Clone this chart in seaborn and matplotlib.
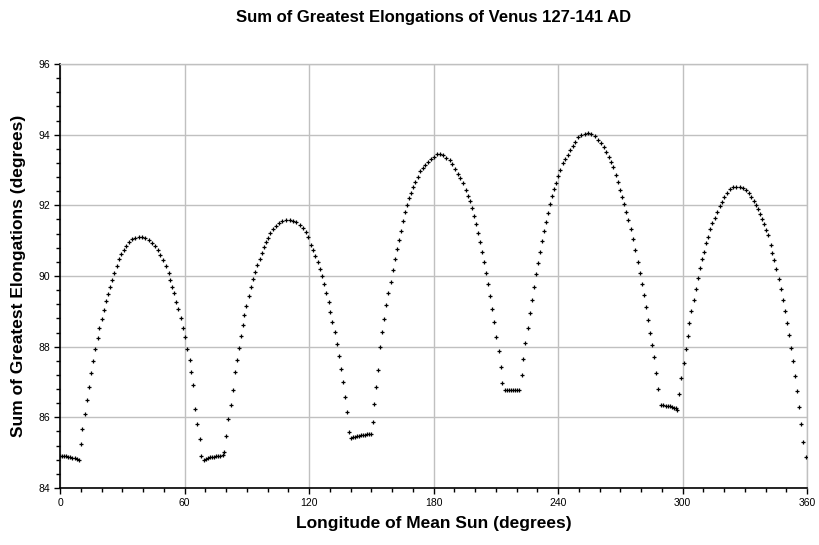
import numpy as np
import pandas as pd
import matplotlib
matplotlib.use("Agg")
import matplotlib.pyplot as plt
import seaborn as sns
from matplotlib.ticker import MultipleLocator

# valores, por ciclo (longitud del sol medio, suma de elongaciones)
lon_1 = [0, 1, 2, 3, 4, 5, 6, 7, 8, 9,
         10.0, 10.8, 11.9, 13.2, 14.0, 15.1, 16.0, 17.0, 18.2, 18.9, 20.1, 21.0, 22.3, 23.1, 23.9,
         25.0, 26.2, 27.3, 28.6, 29.5, 30.7, 32.0, 33.4, 34.7, 36.3, 37.9, 39.5, 41.1, 42.7, 44.3,
         45.9, 47.2, 48.3, 49.6, 50.9, 52.4, 53.2, 54.1, 55.1, 56.0, 57.0, 58.2, 59.1, 60.2, 61.2,
         62.5, 63.1, 64.1, 65.2, 66.2, 67.3, 68.1, 69.2]
elong_1 = [84.90, 84.90, 84.91, 84.90, 84.89, 84.88, 84.86, 84.84, 84.81, 84.78,
           85.24, 85.68, 86.10, 86.49, 86.87, 87.25, 87.59, 87.93, 88.24, 88.53, 88.78, 89.04, 89.29, 89.49, 89.70,
           89.89, 90.09, 90.29, 90.47, 90.61, 90.74, 90.86, 90.96, 91.04, 91.08, 91.09, 91.10, 91.07, 91.02, 90.94,
           90.85, 90.74, 90.60, 90.45, 90.29, 90.09, 89.89, 89.70, 89.51, 89.27, 89.07, 88.81, 88.54, 88.27, 87.93,
           87.61, 87.27, 86.92, 86.24, 85.80, 85.39, 84.91, 84.79]

lon_2 = [70.3, 71.3, 72.3, 73.3, 74.3, 75.3, 76.3, 77.3, 78.3, 79.2,
         80.2, 81.1, 82.4, 83.2, 84.2, 85.3, 86.1, 87.1, 88.0, 88.8, 89.8, 91.1, 92.0, 93.2, 94.1,
         95.1, 96.2, 97.2, 98.2, 99.1, 100.1, 101.4, 102.7, 103.9, 105.5, 107.1, 109.1, 110.7, 112.3,
         113.9, 115.5, 117.1, 118.4, 119.7, 120.8, 121.9, 123.0, 124.3, 125.3, 126.3, 127.2, 128.3,
         129.5, 130.1, 131.2, 132.4, 133.3, 134.3, 135.3, 136.2, 137.2, 138.2, 139.1, 140.1]
elong_2 = [84.83, 84.86, 84.87, 84.88, 84.89, 84.90, 84.90, 84.91, 84.92, 85.02,
           85.48, 85.94, 86.35, 86.77, 87.27, 87.61, 87.97, 88.30, 88.61, 88.91, 89.16, 89.43, 89.68, 89.91, 90.11,
           90.30, 90.49, 90.66, 90.81, 90.95, 91.08, 91.21, 91.32, 91.42, 91.49, 91.55, 91.59, 91.59, 91.57,
           91.52, 91.44, 91.35, 91.24, 91.11, 90.88, 90.74, 90.57, 90.39, 90.20, 90.00, 89.77, 89.53,
           89.27, 88.99, 88.70, 88.41, 88.07, 87.74, 87.38, 86.99, 86.58, 86.15, 85.59, 85.41]

lon_3 = [141.0, 142.0, 143.0, 144.0, 145.0, 146.0, 147.0, 148.0, 149.0, 149.9,
         150.8, 151.5, 152.3, 153.1, 154.1, 155.2, 156.1, 157.3, 158.2, 159.4, 160.5, 161.3, 162.3,
         163.2, 164.3, 165.3, 166.1, 167.1, 168.2, 169.3, 170.3, 171.2, 172.5, 173.6, 174.9, 176.0,
         177.3, 178.9, 180.3, 181.6, 183.0, 184.6, 186.2, 187.8, 189.1, 190.4, 191.6, 192.9, 194.2,
         195.5, 196.5, 197.4, 198.4, 199.4, 200.3, 201.3, 202.3, 203.2, 204.2, 205.2, 206.1, 207.4,
         208.3, 209.3, 210.3, 211.4, 212.4, 213.1]
elong_3 = [85.43, 85.45, 85.47, 85.48, 85.49, 85.50, 85.51, 85.52, 85.53, 85.53,
           85.88, 86.38, 86.86, 87.34, 88.00, 88.42, 88.78, 89.18, 89.52, 89.83, 90.17, 90.47, 90.76,
           91.02, 91.26, 91.57, 91.80, 92.01, 92.20, 92.36, 92.53, 92.67, 92.81, 92.96, 93.07, 93.15,
           93.23, 93.30, 93.38, 93.44, 93.44, 93.41, 93.35, 93.27, 93.16, 93.04, 92.90, 92.76, 92.62,
           92.43, 92.26, 92.12, 91.91, 91.70, 91.47, 91.23, 90.97, 90.69, 90.39, 90.08, 89.77, 89.44,
           89.07, 88.69, 88.28, 87.88, 87.42, 86.96]

lon_4 = [214.3, 215.3, 216.3, 217.3, 218.3, 219.3, 220.3, 221.4,
         222.5, 223.1, 224.2, 225.4, 226.3, 227.5, 228.3, 229.4, 230.5, 231.3, 232.3, 233.3, 234.2,
         235.3, 236.1, 237.1, 238.1, 239.0, 240.0, 241.0, 242.4, 243.5, 244.8, 245.9, 247.2, 248.3,
         249.6, 251.2, 252.8, 254.4, 256.0, 257.6, 259.3, 260.9, 262.2, 263.3, 264.4, 265.7, 266.7,
         267.8, 268.9, 270.0, 271.0, 271.9, 272.9, 273.9, 275.0, 276.1, 277.2, 278.4, 279.3, 280.5,
         281.4, 282.4, 283.4, 284.3, 285.3, 286.3, 287.2, 288.2]
elong_4 = [86.77, 86.77, 86.78, 86.78, 86.78, 86.78, 86.77, 86.76,
           87.19, 87.66, 88.10, 88.52, 88.96, 89.32, 89.70, 90.05, 90.38, 90.69, 90.99, 91.28, 91.54,
           91.79, 92.03, 92.26, 92.46, 92.64, 92.83, 93.00, 93.19, 93.30, 93.43, 93.57, 93.68, 93.79,
           93.92, 93.99, 94.02, 94.04, 94.01, 93.95, 93.85, 93.76, 93.64, 93.52, 93.38, 93.24, 93.08,
           92.86, 92.67, 92.43, 92.23, 92.03, 91.82, 91.59, 91.32, 91.04, 90.74, 90.41, 90.09, 89.77,
           89.46, 89.11, 88.76, 88.38, 88.05, 87.72, 87.26, 86.79]

lon_5 = [289.8, 290.8, 291.8, 292.8, 293.8, 294.8, 295.8, 296.8, 297.5,
         298.2, 299.3, 300.5, 301.5, 302.5, 303.1, 304.2, 305.5, 306.3, 307.5, 308.3, 309.4, 310.4,
         311.5, 312.4, 313.4, 314.4, 315.7, 316.6, 317.9, 319.0, 320.1, 321.4, 322.7, 324.3, 325.9,
         327.5, 329.2, 330.8, 332.1, 333.2, 334.3, 335.3, 336.4, 337.2, 338.3, 339.3, 340.4, 341.4,
         342.5, 343.3, 344.2, 345.2, 346.3, 347.3, 348.4, 349.4, 350.5, 351.5, 352.4, 353.4, 354.4,
         355.3, 356.3, 357.3, 358.2, 359.3]
elong_5 = [86.35, 86.34, 86.33, 86.32, 86.31, 86.29, 86.27, 86.25, 86.22,
           86.66, 87.10, 87.53, 87.93, 88.31, 88.66, 89.01, 89.32, 89.63, 89.94, 90.22, 90.47, 90.69,
           90.92, 91.11, 91.32, 91.49, 91.65, 91.82, 91.98, 92.10, 92.24, 92.36, 92.45, 92.51, 92.53,
           92.53, 92.48, 92.42, 92.34, 92.24, 92.13, 92.01, 91.89, 91.76, 91.61, 91.47, 91.30, 91.16,
           90.88, 90.66, 90.44, 90.19, 89.91, 89.63, 89.32, 89.01, 88.68, 88.33, 87.95, 87.58, 87.17,
           86.75, 86.28, 85.80, 85.31, 84.87]

df = pd.DataFrame({
    "lon": lon_1 + lon_2 + lon_3 + lon_4 + lon_5,
    "elong": elong_1 + elong_2 + elong_3 + elong_4 + elong_5,
})

sns.set_style("white")
plt.rcParams['font.family'] = ['Liberation Sans', 'DejaVu Sans']
plt.rcParams['text.color'] = 'black'
plt.rcParams['axes.labelcolor'] = 'black'
plt.rcParams['xtick.color'] = 'black'
plt.rcParams['ytick.color'] = 'black'

fig = plt.figure(figsize=(8.2, 5.45), dpi=100)
ax = fig.add_axes([0.0732, 0.1046, 0.9110, 0.7780])

sns.scatterplot(data=df, x="lon", y="elong", marker="+", color="black",
                s=9, linewidth=0.9, ax=ax, legend=False, zorder=3)

ax.set_xlim(0, 360)
ax.set_ylim(84, 96)
ax.xaxis.set_major_locator(MultipleLocator(60))
ax.xaxis.set_minor_locator(MultipleLocator(10))
ax.yaxis.set_major_locator(MultipleLocator(2))
ax.yaxis.set_minor_locator(MultipleLocator(0.4))
ax.grid(True, which="major", color="#c0c0c0", linewidth=1)
ax.set_axisbelow(True)

for s in ["top", "right"]:
    ax.spines[s].set_color("#c0c0c0")
    ax.spines[s].set_linewidth(1)
for s in ["left", "bottom"]:
    ax.spines[s].set_color("black")
    ax.spines[s].set_linewidth(1.2)

ax.tick_params(which="both", direction="out", labelsize=7.5, pad=3)
ax.tick_params(which="major", length=4, width=1)
ax.tick_params(which="minor", length=3, width=1)
ax.tick_params(axis="both", which="both", bottom=True, left=True)

ax.set_title("Sum of Greatest Elongations of Venus 127-141 AD", fontsize=12,
             fontweight="bold", pad=30)
ax.set_xlabel("Longitude of Mean Sun (degrees)", fontsize=12.5, fontweight="bold", labelpad=6)
ax.set_ylabel("Sum of Greatest Elongations (degrees)", fontsize=12.5, fontweight="bold", labelpad=9)

plt.savefig("out.png", dpi=100)
